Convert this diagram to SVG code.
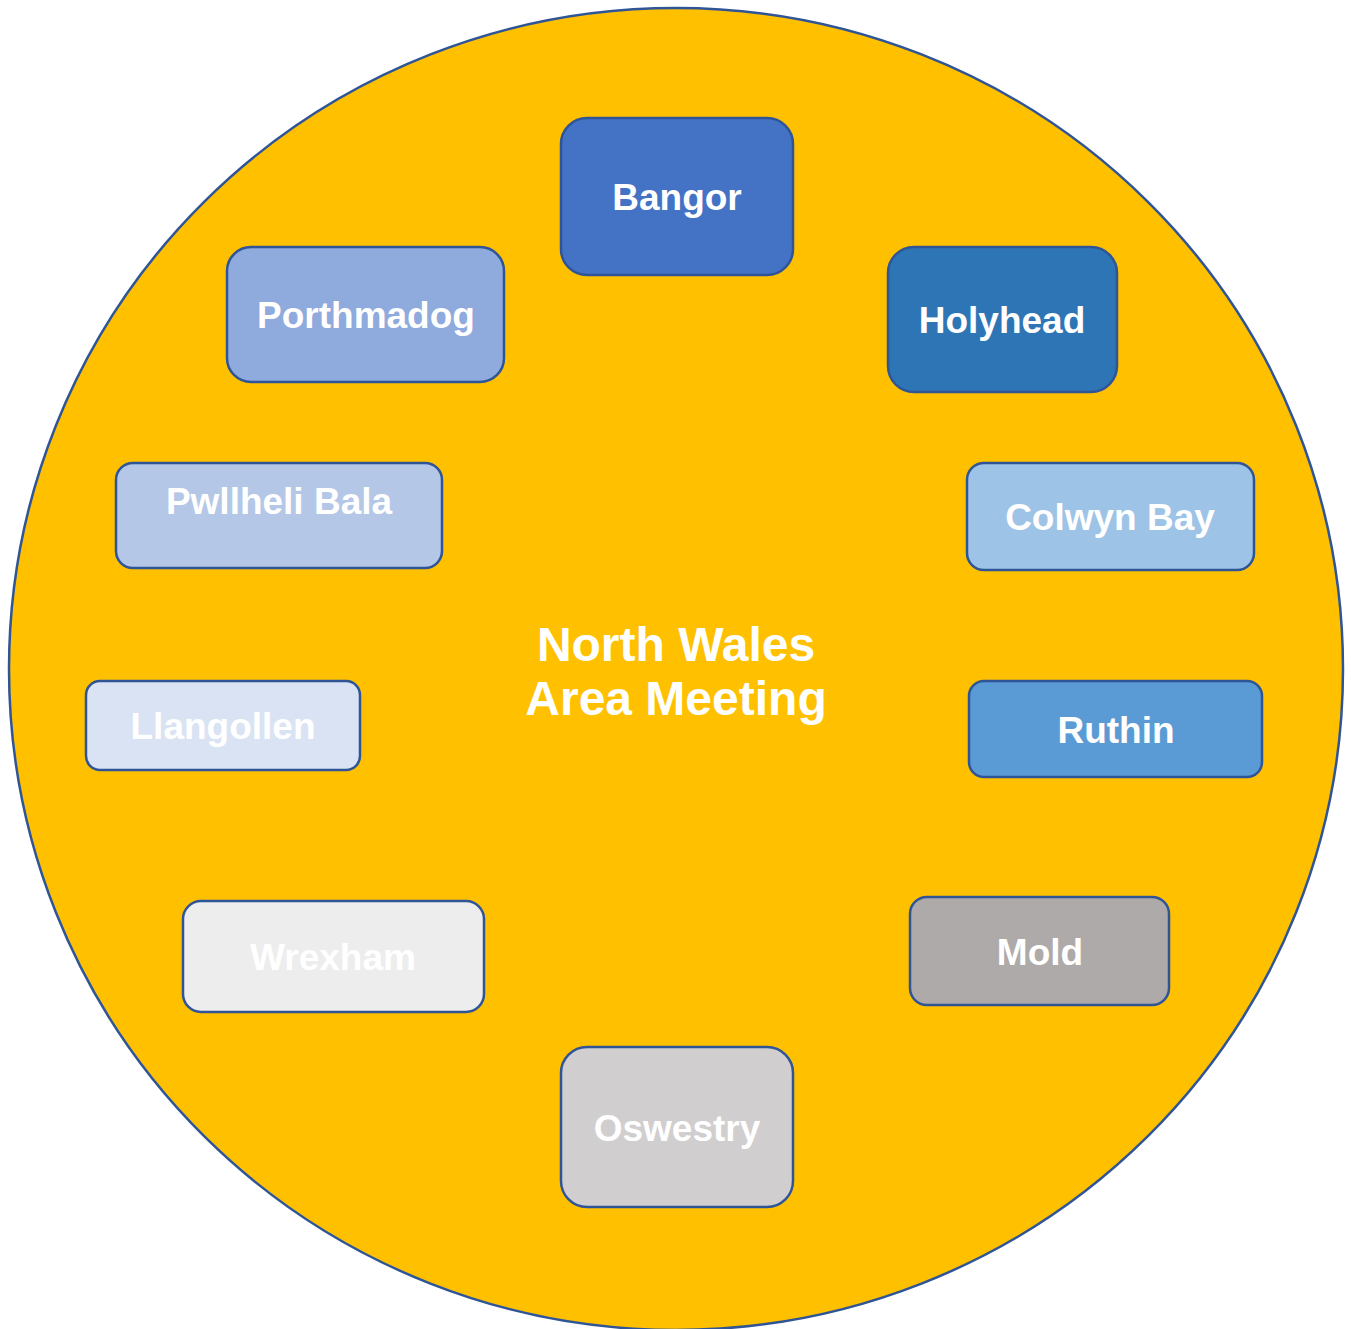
<svg xmlns="http://www.w3.org/2000/svg" width="1351" height="1329" viewBox="0 0 1351 1329">
<style>
.node rect{stroke:#2F5597;stroke-width:2.5}
.lbl{font-family:"Liberation Sans",Arial,sans-serif;font-weight:bold;font-size:37px;fill:#FFFFFF;text-anchor:middle}
.big{font-size:48px}
</style>
<rect width="1351" height="1329" fill="#FFFFFF"/>
<g id="area">
<ellipse cx="676" cy="669" rx="667" ry="661" fill="#FFC000" stroke="#2F5597" stroke-width="2.5"/>
<text class="lbl big" x="676" y="661">North Wales</text>
<text class="lbl big" x="676" y="715">Area Meeting</text>
</g>
<g id="connectors"></g>
<g id="bangor" class="node"><rect x="561" y="118" width="232" height="157" rx="26" fill="#4472C4"/><text class="lbl" x="677" y="210">Bangor</text></g>
<g id="holyhead" class="node"><rect x="888" y="247" width="229" height="145" rx="26" fill="#2E75B6"/><text class="lbl" x="1002" y="333">Holyhead</text></g>
<g id="porthmadog" class="node"><rect x="227" y="247" width="277" height="135" rx="24" fill="#8FAADC"/><text class="lbl" x="366" y="328">Porthmadog</text></g>
<g id="pwllheli-bala" class="node"><rect x="116" y="463" width="326" height="105" rx="17" fill="#B4C7E7"/><text class="lbl" x="279" y="514">Pwllheli Bala</text></g>
<g id="colwyn-bay" class="node"><rect x="967" y="463" width="287" height="107" rx="17" fill="#9DC3E6"/><text class="lbl" x="1110" y="530">Colwyn Bay</text></g>
<g id="llangollen" class="node"><rect x="86" y="681" width="274" height="89" rx="14" fill="#DAE3F3"/><text class="lbl" x="223" y="739">Llangollen</text></g>
<g id="ruthin" class="node"><rect x="969" y="681" width="293" height="96" rx="15" fill="#5B9BD5"/><text class="lbl" x="1116" y="743">Ruthin</text></g>
<g id="wrexham" class="node"><rect x="183" y="901" width="301" height="111" rx="18" fill="#EDEDED"/><text class="lbl" x="333" y="970">Wrexham</text></g>
<g id="mold" class="node"><rect x="910" y="897" width="259" height="108" rx="17" fill="#AEAAAA"/><text class="lbl" x="1040" y="965">Mold</text></g>
<g id="oswestry" class="node"><rect x="561" y="1047" width="232" height="160" rx="26" fill="#D0CECE"/><text class="lbl" x="677" y="1141">Oswestry</text></g>
</svg>
